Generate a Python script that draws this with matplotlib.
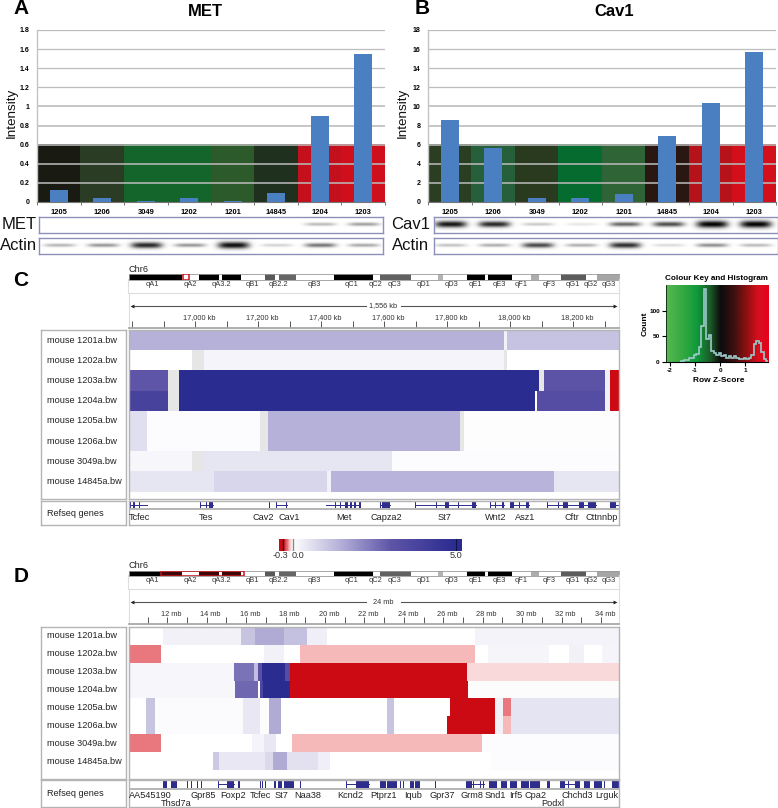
import numpy as np
import matplotlib
matplotlib.use("Agg")
import matplotlib.pyplot as plt
from matplotlib.colors import LinearSegmentedColormap, Normalize
from matplotlib.patches import Rectangle

plt.rcParams['font.family'] = ['Liberation Sans', 'DejaVu Sans']
W, H = 778, 808
nan = float('nan')

# ---- bar panels ----
lanes_a = ['1205', '1206', '3049', '1202', '1201', '14845', '1204', '1203']
lanes_b = ['1205', '1206', '3049', '1202', '1201', '14845', '1204', '1203']
met_vals = [0.13, 0.04, 0.012, 0.04, 0.015, 0.09, 0.90, 1.55]
cav_vals = [8.6, 5.6, 0.4, 0.45, 0.85, 6.9, 10.4, 15.7]
met_strip = ['#191b13', '#2a3d24', '#14652c', '#14652c', '#2d5a2a', '#20301e', '#c4101c', '#cf0f1c']
cav_strip = ['#2a3f22', '#26603a', '#2a3a1e', '#056b2f', '#2f6436', '#2a1712', '#b5121a', '#d40f1c']
met_ticks = ['0', '0.2', '0.4', '0.6', '0.8', '1', '1.2', '1.4', '1.6', '1.8']
cav_ticks = ['0', '2', '4', '6', '8', '10', '12', '14', '16', '18']
met_band = [0, 0, 0, 0, 0, 0, 0.28, 0.38]
actin_a = [0.3, 0.42, 0.85, 0.42, 0.95, 0.18, 0.55, 0.35]
cav_band = [0.92, 0.85, 0.22, 0.1, 0.6, 0.7, 1.0, 1.0]
actin_b = [0.25, 0.33, 0.72, 0.33, 0.82, 0.15, 0.45, 0.28]

# ---- ideogram ----
band_edges = [0, 53.2, 61.5, 70.5, 90.8, 93.2, 112.2, 136, 146.5, 150.5, 167.5, 205.5, 244, 251.5,
              282.2, 309.5, 314.2, 338.2, 356.8, 359.2, 383.8, 402.2, 410.8, 432.5, 457.2, 468.5, 490]
band_shade = [0, 1, 1, 0, 1, 0, 1, .35, 1, .4, 1, 0, 1, .38, 1, .7, 1, 0, 1, 0, 1, .68, 1, .36, 1, .65]
band_names = ['qA1', 'qA2', 'qA3.2', 'qB1', 'qB2.2', 'qB3', 'qC1', 'qC2', 'qC3', 'qD1', 'qD3', 'qE1',
              'qE3', 'qF1', 'qF3', 'qG1', 'qG2', 'qG3']
band_label_x = [24.2, 61.5, 92.5, 123.5, 149.5, 185.5, 223.5, 247.5, 266.5, 295.5, 323.5, 346.5,
                370.5, 392.5, 420.5, 444.5, 462.5, 480.5]

samples = ['mouse 1201a.bw', 'mouse 1202a.bw', 'mouse 1203a.bw', 'mouse 1204a.bw',
           'mouse 1205a.bw', 'mouse 1206a.bw', 'mouse 3049a.bw', 'mouse 14845a.bw']

# ---- panel C tracks (kb, value; nan = no data) ----
c_edges = [
    [16788, 17981, 17990, 18345],
    [16788, 16990, 17028, 17981, 17990, 18345],
    [16788, 16912, 16948, 18091, 18107, 18303, 18317, 18345],
    [16788, 16912, 16948, 18078, 18084, 18303, 18317, 18345],
    [16788, 16846, 17205, 17232, 17840, 17855, 18345],
    [16788, 16846, 17205, 17232, 17840, 17855, 18345],
    [16788, 16990, 17028, 17626, 18345],
    [16788, 17060, 17419, 17430, 18138, 18345],
]
c_vals = [
    [1.45, 0.25, 1.12],
    [0, nan, 0.2, nan, 0],
    [3.0, nan, 5.0, nan, 3.1, 0.25, -0.3],
    [3.9, nan, 5.0, 0, 3.4, 0.25, -0.3],
    [0.6, 0.05, nan, 1.45, nan, 0.03],
    [0.6, 0.05, nan, 1.45, nan, 0.03],
    [0.15, nan, 0.48, 0.05],
    [0.48, 0.75, 0.25, 1.4, 0.48],
]
c_gene_lines = [(16787, 16846), (17015, 17057), (17258, 17292), (17415, 17523), (17586, 17618),
                (17698, 17893), (17937, 17980), (18001, 18060), (18118, 18274), (18316, 18343)]
c_exons = [(16787, 16795), (16803, 16808), (16822, 16826), (17015, 17018), (17033, 17036), (17045, 17057),
           (17233, 17239), (17258, 17261), (17288, 17292), (17443, 17446), (17461, 17463), (17475, 17486),
           (17491, 17499), (17504, 17512), (17521, 17525), (17586, 17589), (17594, 17618), (17698, 17700),
           (17766, 17768), (17792, 17805), (17835, 17837), (17850, 17852), (17872, 17874), (17880, 17893),
           (17937, 17940), (17951, 17954), (17967, 17969), (17975, 17980), (18001, 18011), (18028, 18031),
           (18052, 18060), (18118, 18120), (18145, 18147), (18152, 18154), (18168, 18184), (18205, 18207),
           (18219, 18234), (18247, 18274), (18316, 18337)]
c_genes = ['Tcfec', 'Tes', 'Cav2', 'Cav1', 'Met', 'Capza2', 'St7', 'Wnt2', 'Asz1', 'Cftr', 'Cttnnbp']
c_gene_x = [16824, 17034, 17215, 17297, 17472, 17607, 17793, 17955, 18047, 18196, 18291]

# ---- panel D tracks (Mb, value) ----
d_edges = [
    [10.03, 11.8, 15.75, 16.46, 17.9, 19.08, 20.1, 27.62, 34.9],
    [10.03, 11.7, 16.88, 17.93, 18.75, 27.59, 28.27, 31.35, 32.36, 33.12, 34.05, 34.9],
    [10.03, 15.36, 16.42, 16.6, 16.8, 17.98, 18.24, 27.22, 34.9],
    [10.03, 15.44, 16.58, 16.68, 16.83, 18.2, 27.25, 34.9],
    [10.03, 10.9, 11.39, 15.86, 16.7, 17.14, 17.76, 23.15, 23.5, 26.32, 28.6, 29.03, 29.45, 34.9],
    [10.03, 10.9, 11.39, 15.86, 16.7, 17.14, 17.76, 23.15, 23.5, 26.18, 28.64, 29.03, 29.45, 34.9],
    [10.03, 11.7, 16.29, 16.88, 17.51, 18.34, 27.98, 34.9],
    [10.03, 14.32, 14.61, 16.97, 17.34, 18.07, 19.64, 20.27, 28.38, 34.9],
]
d_vals = [
    [0, 0.25, 1.1, 1.55, 1.15, 0.3, 0, 0.22],
    [-0.15, 0, 0.25, 0, -0.1, 0, 0.18, 0, 0.25, 0, 0.2],
    [0.15, 2.5, 1.2, 3.2, 5.0, 3.4, -0.3, -0.05],
    [0.15, 2.7, 0, 3.8, 5.0, -0.3, 0.06],
    [0, 1.1, 0.07, 0.45, 0.06, 1.55, 0, 1.1, 0, -0.3, 0.25, -0.15, 0.5],
    [0, 1.1, 0.07, 0.45, 0.06, 1.55, 0, 1.1, 0, -0.3, 0.25, -0.1, 0.5],
    [-0.15, 0, 0.2, 0.45, 0, -0.1, 0.05],
    [0, 1.0, 0.45, 0.7, 1.55, 0.55, 0.3, 0, 0.05],
]
d_gene_lines = [(14.59, 15.36), (21.08, 22.22), (27.17, 28.05), (31.94, 32.66)]
d_exons = [(10.80, 10.84), (11.76, 11.97), (12.19, 12.51), (12.62, 12.66), (12.94, 12.97), (13.02, 13.05),
           (13.21, 13.24), (13.38, 13.41), (13.52, 13.55), (13.72, 13.75), (14.58, 14.60), (15.05, 15.36),
           (15.58, 15.69), (16.70, 16.73), (16.82, 16.85), (16.96, 16.99), (17.09, 17.12), (17.39, 17.53),
           (17.59, 17.81), (17.90, 18.44), (18.73, 18.77), (21.08, 21.12), (21.59, 22.22), (22.78, 23.07),
           (23.15, 23.66), (23.81, 23.84), (23.97, 24.0), (24.32, 24.49), (24.58, 24.83), (25.57, 25.61),
           (27.17, 27.45), (27.53, 27.56), (27.70, 27.73), (27.87, 27.90), (28.04, 28.07), (28.3, 28.72),
           (28.93, 29.23), (29.4, 29.74), (29.94, 30.33), (30.41, 30.92), (31.26, 31.43), (31.94, 32.19),
           (32.34, 32.38), (32.66, 32.95), (33.12, 33.46), (33.63, 34.05), (34.15, 34.19), (34.29, 34.33),
           (34.56, 34.9)]
d_genes = ['AA545190', 'Gpr85', 'Foxp2', 'Tcfec', 'St7', 'Naa38', 'Kcnd2', 'Ptprz1', 'Iqub', 'Gpr37',
           'Grm8', 'Snd1', 'Irf5', 'Cpa2', 'Chchd3', 'Lrguk']
d_gene_x = [11.15, 13.81, 15.32, 16.71, 17.78, 19.1, 21.29, 22.98, 24.49, 25.95, 27.47, 28.64, 29.7, 30.69, 32.78, 34.3]
d_genes2 = ['Thsd7a', 'Podxl']
d_gene2_x = [12.47, 31.56]

# ---- histogram ----
hist_left = [-1.55, -1.45, -1.35, -1.25, -1.15, -1.05, -0.95, -0.85, -0.75, -0.65, -0.55, -0.45, -0.35, -0.25,
             -0.15, -0.05, 0.05, 0.15, 0.25, 0.35, 0.45, 0.55, 0.65, 0.75, 0.85, 0.95, 1.05, 1.15, 1.25, 1.35,
             1.45, 1.55, 1.65, 1.75, 1.85]
hist_count = [1, 3, 3, 7, 8, 14, 15, 30, 70, 142, 45, 52, 22, 17, 14, 18, 12, 14, 7, 12, 8, 12, 8, 5, 6, 7, 6, 8,
              13, 35, 42, 38, 20, 5, 1]
key_ticks = [-2, -1, 0, 1]
key_count_ticks = [0, 50, 100]

fig = plt.figure(figsize=(W / 100, H / 100), dpi=100, facecolor='white')


def axpx(x0, y0, x1, y1, **kw):
    return fig.add_axes([x0 / W, 1 - y1 / H, (x1 - x0) / W, (y1 - y0) / H], **kw)


over = axpx(0, 0, W, H, zorder=20)
over.set_xlim(0, W)
over.set_ylim(H, 0)
over.axis('off')
over.patch.set_alpha(0)


def T(x, y, s, size, ha='center', va='center', **kw):
    over.text(x, y, s, fontsize=size, ha=ha, va=va, **kw)


BAR = '#4a7fc1'
GRID = '#b9b9b9'


def barpanel(x0, x1, lanes, vals, strip, ymax, ticks, name, nx, band_vals, actin, box_l, box_r, lab_x):
    ax = axpx(x0, 30, x1, 202)
    ax.set_xlim(-0.5, 7.5)
    ax.set_ylim(0, ymax)
    xs = np.arange(8)
    ax.bar(xs, [ymax * 0.337] * 8, width=1.006, color=strip, zorder=1, linewidth=0)
    yt = np.linspace(0, ymax, 10)
    for i, v in enumerate(yt[1:], 1):
        ax.axhline(v, color=GRID, lw=1.2 if i in (1, 2, 3, 4, 5) else 0.9, zorder=2, alpha=0.95)
    ax.bar(xs, vals, width=0.41, color=BAR, zorder=3, linewidth=0)
    ax.set_yticks(yt, ticks, fontsize=5, fontweight='bold')
    ax.set_xticks(xs, lanes, fontsize=5.4, fontweight='bold')
    ax.set_xticks(np.arange(-0.5, 8), minor=True)
    ax.tick_params(axis='x', which='major', length=0, pad=5)
    ax.tick_params(axis='x', which='minor', length=2, color='#777777', width=0.7)
    ax.tick_params(axis='y', length=0, pad=5.5)
    for s in ('top', 'right'):
        ax.spines[s].set_visible(False)
    ax.spines['left'].set_color('#c4c4c4')
    ax.spines['left'].set_linewidth(1.0)
    ax.spines['bottom'].set_color('#777777')
    ax.spines['bottom'].set_linewidth(0.8)
    ax.set_axisbelow(False)

    d0 = (box_l - x0) / (x1 - x0) * 8 - 0.5
    d1 = (box_r - x0) / (x1 - x0) * 8 - 0.5
    for (y0, y1, inten, lab) in ((217, 233, band_vals, name), (238, 254, actin, 'Actin')):
        b = axpx(box_l, y0, box_r, y1)
        gx = np.linspace(d0, d1, 690)
        gy = np.linspace(0, 1, 32)
        X, Y = np.meshgrid(gx, gy)
        img = np.zeros_like(X)
        for i, v in enumerate(inten):
            sy = 0.09 + 0.14 * v ** 2
            img += v * np.exp(-np.abs((X - i - 0.02) / 0.36) ** 4) * np.exp(-((Y - 0.45) / sy) ** 2)
        b.imshow(img, cmap='gray_r', vmin=0, vmax=1.0, extent=(d0, d1, 1, 0), aspect='auto',
                 interpolation='bilinear')
        b.set_xticks([])
        b.set_yticks([])
        for s in b.spines.values():
            s.set_color('#8d90b8')
            s.set_linewidth(1.0)
        T(lab_x, (y0 + y1) / 2 - 0.5, lab, 12, ha='center', color='#111111')
    T(nx, 12, name, 12, fontweight='bold')
    T(x0 - 25.5, 113, 'Intensity', 9.7, rotation=90, color='#111111')


barpanel(37, 385, lanes_a, met_vals, met_strip, 1.8, met_ticks, 'MET', 205, met_band, actin_a, 39, 383, 19)
barpanel(428, 776, lanes_b, cav_vals, cav_strip, 18, cav_ticks, 'Cav1', 614, cav_band, actin_b, 434, 778, 411)

for x, y, s in ((21, 8, 'A'), (422, 8, 'B'), (21, 280, 'C'), (21, 577, 'D')):
    T(x, y, s, 15, fontweight='bold')

# ---- IGV panels ----
L, R = 128.5, 618.7
blue = LinearSegmentedColormap.from_list('igv', [
    (0, '#cc0a14'), (0.15 / 5.3, '#e9777e'), (0.2 / 5.3, '#f6b9ba'), (0.25 / 5.3, '#f9d9d9'),
    (0.3 / 5.3, '#ffffff'), (1.8 / 5.3, '#b2aed7'), (3.3 / 5.3, '#5f55a8'), (1, '#2a2c90')], N=5300)
norm = Normalize(-0.3, 5.0)
INK = '#2e2d8c'
FR = '#b4b4b4'


def ideogram(y0, y1, ylab, box, dark):
    ax = axpx(L, y0, R, y1)
    ax.set_xlim(0, 490)
    ax.set_ylim(0, 1)
    e = np.array(band_edges)
    cols = [str(s) if s < 1 else 'white' for s in band_shade]
    ax.barh(0.5, e[1:] - e[:-1], left=e[:-1], height=1, color=cols, linewidth=0)
    if dark:
        clip = Rectangle((box[0], 0), box[1] - box[0], 1, transform=ax.transData)
        for a, w, s in zip(e[:-1], e[1:] - e[:-1], band_shade):
            if s < 1:
                p = ax.barh(0.5, w, left=a, height=1, color='#3f0808', linewidth=0)
                p[0].set_clip_path(clip)
    ax.add_patch(Rectangle((box[0], 0.02), box[1] - box[0], 0.96, fill=not dark, fc='white', ec='#c8141e', lw=1.1, zorder=5))
    ax.set_xticks([])
    ax.set_yticks([])
    for s in ax.spines.values():
        s.set_color('#9a9a9a')
        s.set_linewidth(0.6)
    T(L + 0.5, y0 - 5, 'Chr6', 6.6, ha='left', color='#222222')
    for n, x in zip(band_names, band_label_x):
        T(L + x, ylab, n, 5.4, color='#333333')


def ruler(y0, y1, xlim, minor, major, labels, span, yarrow, ylab):
    ax = axpx(L, y0, R, y1)
    ax.set_xlim(*xlim)
    ax.set_ylim(y1, y0)
    ax.set_yticks([])
    ax.set_xticks(minor)
    ax.set_xticklabels([])
    ax.tick_params(axis='x', direction='in', length=5, width=0.7, color='#555555', pad=0)
    for s in ('top', 'left', 'right'):
        ax.spines[s].set_color('#dddddd')
        ax.spines[s].set_linewidth(0.8)
    ax.spines['bottom'].set_color('#a8a8a8')
    ax.spines['bottom'].set_linewidth(1.3)
    w = xlim[1] - xlim[0]
    ax.plot([xlim[0] + 0.007 * w, xlim[0] + 0.485 * w], [yarrow, yarrow], color='#555555', lw=0.8)
    ax.plot([xlim[0] + 0.555 * w, xlim[1] - 0.007 * w], [yarrow, yarrow], color='#555555', lw=0.8)
    ax.plot([xlim[0] + 0.007 * w], [yarrow], marker='<', ms=2.8, color='#222222', mew=0)
    ax.plot([xlim[1] - 0.007 * w], [yarrow], marker='>', ms=2.8, color='#222222', mew=0)
    ax.text(xlim[0] + 0.52 * w, yarrow, span, fontsize=5.3, ha='center', va='center', color='#333333')
    for m, lab in zip(major, labels):
        ax.text(m + 0.008 * w, ylab, lab, fontsize=5.3, ha='center', va='center', color='#333333')
    for xx in (L, R):
        over.plot([xx, xx], [y0 - 14, y0], color='#dddddd', lw=0.8)


def tracks(y0, y1, rh, xlim, edges, vals):
    ax = axpx(L, y0, R, y1)
    ax.set_xlim(*xlim)
    ax.set_ylim((y1 - y0) / rh, 0)
    ax.set_xticks([])
    ax.set_yticks([])
    for r, (e, v) in enumerate(zip(edges, vals)):
        e = np.array(e, float)
        v = np.array(v, float)
        cols = [('#e6e6e6' if np.isnan(x) else blue(norm(x))) for x in v]
        ax.barh(r + 0.5, e[1:] - e[:-1], left=e[:-1], height=1.0, color=cols, linewidth=0)
    for s in ax.spines.values():
        s.set_color(FR)
        s.set_linewidth(1.0)
    nb = axpx(40.7, y0, 126, y1)
    nb.set_xticks([])
    nb.set_yticks([])
    nb.set_xlim(0, 1)
    nb.set_ylim((y1 - y0) / rh, 0)
    for s in nb.spines.values():
        s.set_color(FR)
        s.set_linewidth(1.0)
    for r, n in enumerate(samples):
        nb.text(6.3 / 85.3, r + 0.5, n, fontsize=6.6, ha='left', va='center', color='#222222')


def genes(y0, y1, ht, xlim, lines, exons, names, nx, ylab, names2=None, nx2=None, ylab2=None):
    ax = axpx(L, y0, R, y1)
    ax.set_xlim(*xlim)
    ax.set_ylim(y1 - y0, 0)
    ax.set_xticks([])
    ax.set_yticks([])
    for a, b in lines:
        ax.plot([a, b], [ht / 2, ht / 2], color=INK, lw=0.7)
    for a, b in exons:
        ax.barh(ht / 2, b - a, left=a, height=ht - 1.2, color=INK, linewidth=0)
    ax.axhline(ht + 0.4, color='#a8a8a8', lw=1.2)
    for n, x in zip(names, nx):
        ax.text(x, ylab, n, fontsize=6.6, ha='center', va='center', color='#222222')
    if names2:
        for n, x in zip(names2, nx2):
            ax.text(x, ylab2, n, fontsize=6.6, ha='center', va='center', color='#222222')
    for s in ax.spines.values():
        s.set_color(FR)
        s.set_linewidth(1.0)
    nb = axpx(40.7, y0, 126, y1)
    nb.set_xticks([])
    nb.set_yticks([])
    for s in nb.spines.values():
        s.set_color(FR)
        s.set_linewidth(1.0)
    nb.text(6.3 / 85.3, 0.5, 'Refseq genes', fontsize=6.6, ha='left', va='center', color='#222222',
            transform=nb.transAxes)


# panel C
ideogram(274, 280, 284.2, (54.2, 60.8), False)
c_xlim = (16788, 18345)
ruler(293, 328, c_xlim, np.arange(16800, 18301, 100), np.arange(17000, 18201, 200),
      ['17,000 kb', '17,200 kb', '17,400 kb', '17,600 kb', '17,800 kb', '18,000 kb', '18,200 kb'],
      '1,556 kb', 306, 318)
tracks(330, 499, 20.2, c_xlim, c_edges, c_vals)
genes(500.7, 525.3, 8, c_xlim, c_gene_lines, c_exons, c_genes, c_gene_x, 17.3)

# panel D
ideogram(570.7, 576, 580.8, (32.2, 115.8), True)
d_xlim = (10.03, 34.9)
ruler(589, 623.7, d_xlim, np.arange(11, 35, 1), np.arange(12, 35, 2),
      [f'{m} mb' for m in range(12, 35, 2)], '24 mb', 602, 614.7)
tracks(627, 779.3, 17.87, d_xlim, d_edges, d_vals)
genes(780, 807.3, 8.3, d_xlim, d_gene_lines, d_exons, d_genes, d_gene_x, 15.3, d_genes2, d_gene2_x, 23.3)

# colour scale between C and D
cb = axpx(279.3, 539, 461.7, 551)
cb.set_xlim(-0.41, 5.17)
cb.set_ylim(0, 1)
grad = np.clip(np.linspace(-0.41, 5.17, 500), -0.3, 5.0)
cb.imshow(grad[None, :], cmap=blue, norm=norm, extent=(-0.41, 5.17, 0, 1), aspect='auto')
cb.axvline(-0.3, color='#3a0505', lw=1.0)
cb.axvline(0.0, color='#888888', lw=1.0)
cb.axvline(5.0, color='#10124a', lw=0.8)
cb.axis('off')
T(280, 556, '-0.3', 6.6, color='#333333')
T(298, 556, '0.0', 6.6, color='#333333')
T(456, 556, '5.0', 6.6, color='#333333')

# colour key
key = axpx(666, 285.3, 768.3, 362)
key.set_xlim(-2.16, 1.93)
key.set_ylim(0, 150)
key_cmap = LinearSegmentedColormap.from_list('key', [
    (0, '#58b850'), (0.2, '#2ba53e'), (0.3, '#0f9a3c'), (0.43, '#1c5a28'), (0.53, '#0c0c0c'),
    (0.66, '#3c1010'), (0.78, '#8c1010'), (0.9, '#d60f1e'), (1, '#e8001c')])
key.imshow(np.linspace(0, 1, 300)[None, :], cmap=key_cmap, extent=(-2.16, 1.93, 0, 150), aspect='auto')
edges = np.array(hist_left + [hist_left[-1] + 0.1])
counts = np.array(hist_count, float)
key.stairs(counts, edges, color='#9cc9ca', lw=1.2, zorder=3)
key.set_xticks(key_ticks, ['-2', '-1', '0', '1'], fontsize=4.6, fontweight='bold')
key.set_yticks(key_count_ticks, ['0', '50', '100'], fontsize=4.6, fontweight='bold')
key.tick_params(length=3, width=0.8, pad=1.5)
for s in ('top', 'right'):
    key.spines[s].set_visible(False)
key.spines['left'].set_linewidth(0.5)
key.spines['bottom'].set_linewidth(0.8)
T(716.7, 278.7, 'Colour Key and Histogram', 5.9, fontweight='bold')
T(719, 380, 'Row Z-Score', 6, fontweight='bold')
T(645, 323.7, 'Count', 6, rotation=90, fontweight='bold')

fig.savefig('out.png', dpi=100, facecolor='white')
